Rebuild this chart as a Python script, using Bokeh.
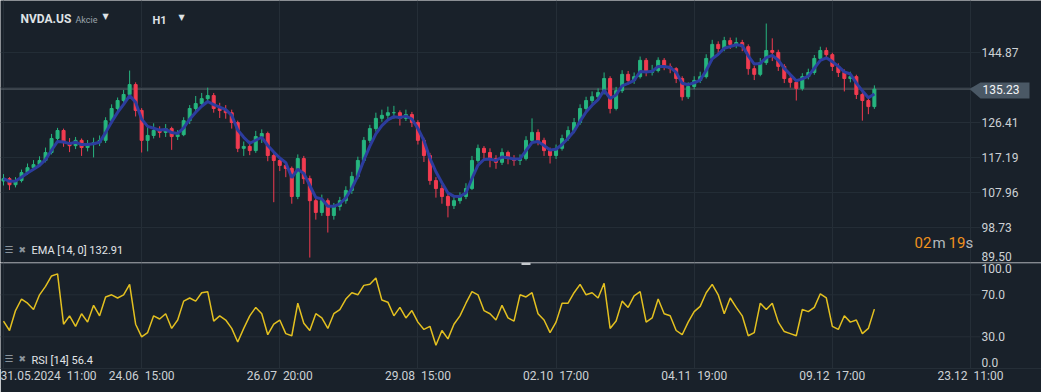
import pandas as pd
from bokeh.plotting import figure
from bokeh.layouts import column
from bokeh.models import ColumnDataSource, FixedTicker, Label, BoxAnnotation, Span
from bokeh.core.properties import value
from bokeh.embed import file_html
from bokeh.resources import INLINE

# ---------------- data ----------------
tick_pos = [0, 46, 92, 138, 184, 230, 276, 322]
tick_labels = ["31.05.2024\u00a0\u00a011:00", "24.06\u00a0\u00a015:00", "26.07\u00a0\u00a020:00",
               "29.08\u00a0\u00a015:00", "02.10\u00a0\u00a017:00", "04.11\u00a0\u00a019:00",
               "09.12\u00a0\u00a017:00", "23.12\u00a0\u00a011:00"]
price_ticks = [89.50, 98.73, 107.96, 117.19, 126.41, 135.64, 144.87]
rsi_ticks = [0.0, 30.0, 70.0, 100.0]

first_open = 111.0
close = [111.6, 110.0, 111.1, 113.2, 114.5, 115.3, 116.4, 118.5, 122.2, 124.3,
         121.1, 120.3, 121.7, 119.8, 120.6, 121.1, 121.7, 126.9, 130.1, 132.2,
         133.8, 136.4, 129.6, 121.7, 123.0, 124.3, 123.8, 124.8, 122.7, 123.2,
         126.9, 130.1, 131.4, 132.7, 133.5, 130.1, 129.6, 129.0, 126.4, 119.6,
         120.1, 119.0, 122.7, 123.5, 117.7, 116.4, 115.1, 114.3, 106.9, 116.9,
         111.6, 105.8, 102.7, 105.8, 101.9, 104.3, 105.8, 108.5, 112.2, 116.4,
         121.7, 124.8, 127.5, 128.3, 129.0, 129.0, 127.5, 128.5, 126.4, 121.7,
         117.7, 111.1, 109.0, 106.9, 104.5, 105.8, 106.9, 109.0, 116.4, 119.6,
         118.5, 116.9, 115.9, 118.5, 116.9, 116.4, 116.9, 121.7, 123.8, 121.7,
         119.0, 117.7, 119.6, 122.2, 124.3, 126.4, 130.1, 132.2, 133.2, 134.3,
         138.0, 130.1, 134.8, 139.1, 137.5, 138.5, 142.8, 139.6, 140.1, 142.8,
         141.2, 140.6, 138.0, 133.2, 135.9, 137.5, 138.5, 143.3, 147.0, 145.9,
         148.0, 147.0, 147.5, 146.4, 140.6, 139.1, 142.2, 145.4, 144.9, 141.2,
         138.0, 137.0, 135.4, 138.5, 139.6, 143.3, 145.4, 144.3, 141.2, 139.6,
         138.0, 138.5, 133.8, 132.2, 130.6, 135.2]
high = [112.8, 112.0, 112.0, 114.0, 115.6, 116.5, 117.5, 119.8, 123.4, 125.0,
        124.8, 122.3, 122.6, 122.2, 121.8, 122.4, 123.0, 127.8, 131.2, 133.0,
        135.0, 140.1, 137.0, 130.2, 125.6, 126.2, 125.4, 126.0, 125.3, 124.4,
        127.8, 131.0, 133.4, 134.2, 135.6, 134.2, 131.6, 131.0, 129.8, 126.9,
        121.4, 121.6, 124.2, 124.6, 124.0, 118.6, 117.2, 116.0, 114.8, 118.0,
        117.6, 112.4, 106.6, 107.4, 106.4, 105.2, 106.8, 109.6, 113.4, 117.4,
        122.6, 125.8, 129.0, 129.8, 130.6, 130.8, 129.6, 129.8, 129.2, 127.0,
        122.4, 118.4, 112.0, 110.0, 107.6, 106.8, 108.0, 110.4, 117.6, 120.6,
        120.2, 119.6, 117.8, 119.6, 119.0, 117.8, 118.0, 122.8, 127.5, 124.6,
        122.4, 119.8, 120.6, 123.2, 125.4, 127.6, 131.2, 133.2, 134.6, 135.4,
        139.6, 138.6, 135.8, 140.2, 140.0, 139.6, 143.8, 143.4, 141.6, 143.6,
        143.4, 142.0, 141.0, 138.6, 137.0, 138.6, 139.8, 144.4, 148.2, 147.8,
        149.0, 148.8, 148.8, 148.2, 147.0, 141.4, 143.4, 152.5, 148.6, 145.6,
        141.8, 138.8, 137.6, 139.4, 140.6, 144.2, 146.4, 146.2, 144.8, 142.0,
        140.4, 139.8, 139.0, 134.6, 133.0, 136.2]
low = [109.8, 108.6, 109.3, 110.6, 112.6, 113.8, 114.8, 115.9, 118.0, 121.6,
       120.0, 118.6, 119.4, 117.6, 118.8, 117.2, 120.2, 121.0, 126.0, 128.9,
       131.3, 133.0, 128.0, 118.5, 118.8, 122.2, 122.4, 122.6, 119.2, 121.8,
       122.8, 126.0, 129.0, 130.8, 131.6, 129.0, 127.6, 127.4, 124.8, 118.6,
       117.6, 117.8, 118.4, 121.0, 116.2, 105.4, 113.6, 112.0, 105.0, 106.2,
       110.2, 90.8, 100.8, 101.8, 97.4, 100.8, 103.2, 105.0, 107.6, 111.6,
       115.8, 121.0, 124.0, 126.6, 127.0, 127.4, 125.6, 126.8, 125.2, 120.6,
       116.0, 110.0, 106.6, 105.0, 101.4, 103.6, 105.0, 106.2, 108.6, 115.8,
       116.8, 114.6, 114.2, 115.2, 115.4, 115.0, 115.2, 116.4, 121.0, 120.4,
       117.6, 115.6, 116.8, 119.0, 121.6, 123.6, 125.8, 129.4, 131.4, 132.6,
       133.8, 128.8, 129.6, 134.2, 136.4, 136.6, 138.0, 138.6, 138.8, 139.6,
       140.2, 139.4, 136.8, 132.2, 132.6, 135.2, 136.8, 138.0, 142.6, 144.4,
       145.2, 145.8, 146.0, 145.2, 139.0, 137.6, 138.6, 141.6, 142.6, 140.0,
       136.8, 135.6, 132.2, 134.8, 137.8, 139.0, 142.8, 143.2, 140.0, 138.4,
       134.6, 137.0, 132.6, 126.9, 128.6, 130.0]
rsi = [45, 36, 55, 66, 62, 56, 70, 78, 88, 90,
       42, 50, 40, 52, 44, 60, 50, 68, 70, 67,
       70, 80, 42, 30, 34, 50, 47, 52, 38, 46,
       64, 67, 64, 72, 73, 45, 50, 46, 38, 25,
       38, 50, 58, 52, 32, 42, 46, 33, 31, 62,
       43, 36, 52, 48, 38, 52, 56, 66, 72, 70,
       79, 80, 86, 65, 63, 50, 58, 48, 55, 44,
       37, 40, 22, 36, 28, 42, 50, 62, 73, 70,
       55, 52, 46, 60, 48, 45, 70, 68, 72, 52,
       46, 34, 44, 62, 62, 72, 80, 70, 72, 67,
       81, 38, 45, 64, 58, 69, 73, 44, 48, 66,
       52, 50, 36, 32, 44, 54, 59, 72, 80, 70,
       52, 67, 58, 50, 31, 34, 62, 56, 62, 44,
       35, 33, 31, 56, 54, 58, 71, 67, 40, 37,
       50, 44, 46, 33, 38, 56.4]
last_price = 135.23
ema_period = 14
ema_last_text = "132.91"
rsi_last_text = "56.4"
hours_per_bar = 4  # each drawn candle stands for about four hourly bars

# ---------------- styling ----------------
BG = "#19212a"
GRID = "#252e37"
TXT = "#cdd1d5"
GREEN = "#26b57f"
RED = "#f23b50"
BLUE = "#2c3c9e"
YELLOW = "#e3c020"
FONT = "Roboto"
W = 1041


def xr(px):  # reference pixel -> x data
    return -1 + px / 3.003


def yp(py):  # reference pixel -> price
    return 89.5 + (262 - py) / 3.793


R_TOP = 100.8
R_BOT = -0.2


def yr(py):  # reference pixel -> rsi
    return R_TOP - (py - 262) * (R_TOP - R_BOT) / 106.0


X0, X1 = -1, xr(W)

x_idx = [2 * i for i in range(len(close))]
opens = [first_open] + close[:-1]
up = [c >= o for o, c in zip(opens, close)]
src = ColumnDataSource(dict(
    x=x_idx, o=opens, c=close, h=high, l=low,
    top=[max(o, c) for o, c in zip(opens, close)],
    bot=[min(o, c) for o, c in zip(opens, close)],
    col=[GREEN if u else RED for u in up],
))
ema = pd.Series(close).ewm(span=ema_period / hours_per_bar, adjust=False).mean().tolist()


def base_fig(height, y_range, x_loc):
    f = figure(width=W, height=height, x_range=(X0, X1), y_range=y_range,
               x_axis_location=x_loc, y_axis_location=None,
               toolbar_location=None, output_backend="svg")
    f.background_fill_color = BG
    f.border_fill_color = BG
    f.outline_line_color = None
    f.min_border_left = 0
    f.min_border_right = 0
    f.min_border_top = 0
    f.min_border_bottom = 0
    f.xgrid.ticker = FixedTicker(ticks=tick_pos)
    f.xgrid.grid_line_color = GRID
    f.ygrid.visible = False
    return f


def lab(f, x, y, text, size="12px", color=TXT, font=FONT, style="normal", align="left"):
    f.add_layout(Label(x=x, y=y, text=text, text_font=font, text_font_size=size,
                       text_color=color, text_font_style=style, text_align=align,
                       text_baseline="middle"))


# ---------------- main price panel ----------------
p = base_fig(262, (yp(262), yp(0)), None)

# horizontal grid lines (extend 10 px into the axis strip as ticks)
n = len(price_ticks)
p.segment(x0=[X0] * n, y0=price_ticks, x1=[xr(980)] * n, y1=price_ticks,
          line_color=GRID, line_width=1)
# price-axis labels
ax_ticks = [t for t in price_ticks[1:] if abs(t - 135.64) > 0.01]
p.text(x=[xr(981)] * len(ax_ticks), y=ax_ticks, text=[f"{t:.2f}" for t in ax_ticks],
       text_font=value(FONT), text_font_size=value("12px"), text_color=TXT,
       text_baseline="middle", text_align="left")
lab(p, xr(981), yp(255.5), f"{price_ticks[0]:.2f}")

# current price line
p.segment(x0=[X0], y0=[last_price], x1=[xr(970)], y1=[last_price], line_color="#5f6870", line_width=1)

p.segment("x", "h", "x", "l", source=src, color="col", line_width=1)
p.vbar(x="x", top="top", bottom="bot", width=1.0, source=src, fill_color="col", line_color="col")
p.line(x_idx, ema, line_color=BLUE, line_width=3)

# price box on the axis
p.patch(x=[xr(969), xr(980), xr(1029), xr(1029), xr(980)],
        y=[last_price, yp(82), yp(82), yp(98), yp(98)],
        fill_color="#4a5865", line_color=None)
lab(p, xr(982), last_price, f"{last_price:.2f}", color="#f2f4f6")

# header
lab(p, xr(20), yp(18), "NVDA.US", size="12px", color="#dfe2e5", style="bold")
lab(p, xr(75), yp(19), "Akcie", size="9px", color="#9aa3ab")
lab(p, xr(102), yp(16), "\u25bc", size="8px", color="#dfe2e5", font="DejaVu Sans")
lab(p, xr(152), yp(20), "H1", size="11px", color="#dfe2e5", style="bold")
lab(p, xr(178), yp(17), "\u25bc", size="8px", color="#dfe2e5", font="DejaVu Sans")

# EMA legend
lab(p, xr(4), yp(249), "\u2630", size="10px", color="#8b949c", font="DejaVu Sans")
lab(p, xr(18), yp(249), "\u2716", size="9px", color="#8b949c", font="DejaVu Sans")
lab(p, xr(31), yp(250), f"EMA [{ema_period}, 0] {ema_last_text}", size="11px", color="#e2e5e8")

# countdown
for txt, px, colr in [("02", 914, "#f0921e"), ("m", 932, "#b3b9be"),
                      ("19", 948, "#f0921e"), ("s", 965, "#b3b9be")]:
    lab(p, xr(px), yp(242), txt, size="15px", color=colr)

# ---------------- RSI panel ----------------
r = base_fig(130, (R_BOT, R_TOP), "below")
r.min_border_bottom = 24
r.xaxis.ticker = FixedTicker(ticks=tick_pos)
r.xaxis.major_label_overrides = {t: l for t, l in zip(tick_pos, tick_labels)}
r.xaxis.major_label_text_align = "left"
r.xaxis.major_label_text_font = FONT
r.xaxis.major_label_text_font_size = "12px"
r.xaxis.major_label_text_color = TXT
r.xaxis.major_label_standoff = 0
r.xaxis.major_tick_in = 0
r.xaxis.major_tick_out = 0
r.xaxis.minor_tick_line_color = None
r.xaxis.axis_line_color = GRID

# separator between panels
r.add_layout(Span(location=100.0, dimension="width", line_color="#4b545c", line_width=1))
r.add_layout(BoxAnnotation(left=xr(521), right=xr(530), top=R_TOP, bottom=yr(264.5),
                           fill_color="#c5c9cd", fill_alpha=1, line_color=None))

mid = [t for t in rsi_ticks if 0 < t < 100]
r.segment(x0=[X0] * len(mid), y0=mid, x1=[xr(980)] * len(mid), y1=mid, line_color=GRID, line_width=1)
r.text(x=[xr(981)] * len(mid), y=mid, text=[f"{t:.1f}" for t in mid],
       text_font=value(FONT), text_font_size=value("12px"), text_color=TXT,
       text_baseline="middle", text_align="left")
lab(r, xr(981), yr(268), f"{rsi_ticks[-1]:.1f}")
lab(r, xr(981), yr(361.5), f"{rsi_ticks[0]:.1f}")

r.line(x_idx, rsi, line_color=YELLOW, line_width=1.5)

lab(r, xr(4), yr(358), "\u2630", size="10px", color="#8b949c", font="DejaVu Sans")
lab(r, xr(18), yr(358), "\u2716", size="9px", color="#8b949c", font="DejaVu Sans")
lab(r, xr(31), yr(360), f"RSI [14] {rsi_last_text}", size="11px", color="#e2e5e8")

layout = column(p, r, spacing=0)
open("out.html", "w").write(file_html(layout, INLINE))
